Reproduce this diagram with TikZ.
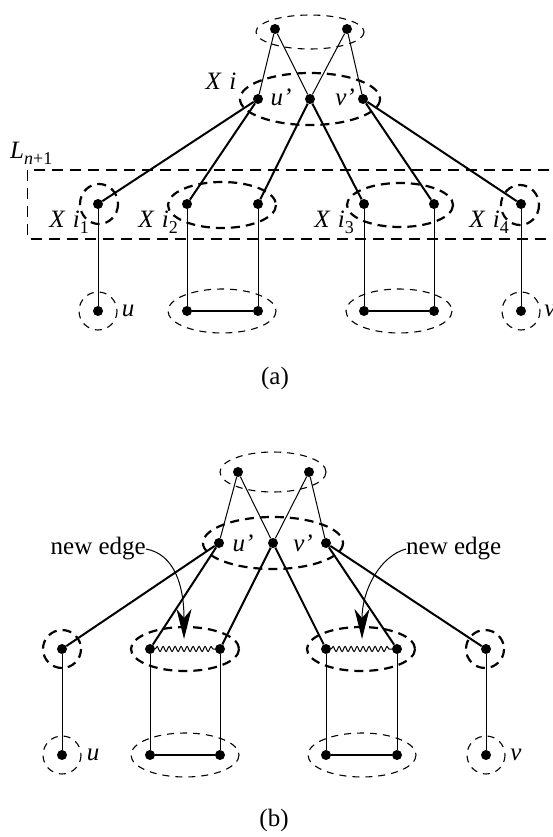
\documentclass[tikz,border=0pt]{standalone}
\usepackage{fontspec}
\setmainfont{Liberation Serif}
\usetikzlibrary{arrows.meta,decorations.pathmorphing}
\newcommand{\lowsub}[1]{\raisebox{-6pt}{\fontsize{18}{20}\selectfont\upshape #1}}
\begin{document}
\begin{tikzpicture}[x=1pt,y=-1pt,
 dot/.style={circle,fill=black,inner sep=0pt,minimum size=10pt},
 thinedge/.style={line width=1pt},
 midedge/.style={line width=1.4pt},
 thickedge/.style={line width=2pt},
 groupthick/.style={line width=2.2pt,dash pattern=on 9pt off 6pt},
 groupthin/.style={line width=1.1pt,dash pattern=on 7pt off 6pt},
 layerbox/.style={line width=1.5pt,dash pattern=on 11pt off 7pt},
 lbl/.style={font=\fontsize{25}{30}\selectfont\itshape, inner sep=0pt},
 txt/.style={font=\fontsize{25}{30}\selectfont, inner sep=0pt},
 wavy/.style={line width=1pt, decorate, decoration={snake,segment length=6pt,amplitude=2.5pt}},
 newarrow/.style={line width=1pt,-{Stealth[length=30pt,width=15pt,inset=9pt]}}
 ]
\useasboundingbox (0,0) rectangle (553,837);

% ================= (a) =================
\draw[groupthin] (310,32) ellipse [x radius=54, y radius=17];
\draw[groupthick] (310,99) ellipse [x radius=70, y radius=26];
\draw[groupthick] (99,204) ellipse [x radius=19, y radius=20];
\draw[groupthick] (222,205) ellipse [x radius=54, y radius=23];
\draw[groupthick] (400,205) ellipse [x radius=53, y radius=22];
\draw[groupthick] (520,205) ellipse [x radius=19, y radius=20];
\draw[groupthin] (98,311) ellipse [x radius=19, y radius=19];
\draw[groupthin] (222,311) ellipse [x radius=54, y radius=22];
\draw[groupthin] (399,311) ellipse [x radius=53, y radius=22];
\draw[groupthin] (521,311) ellipse [x radius=19, y radius=19];
\draw[layerbox] (27.5,170) rectangle (570,239);

\node[dot] (at1) at (275,29) {};
\node[dot] (at2) at (347,29) {};
\node[dot] (au) at (258,99) {};
\node[dot] (am) at (310,99) {};
\node[dot] (av) at (363,99) {};
\node[dot] (ar1) at (98,204) {};
\node[dot] (ar2) at (187,204) {};
\node[dot] (ar3) at (258,204) {};
\node[dot] (ar4) at (364,204) {};
\node[dot] (ar5) at (434,204) {};
\node[dot] (ar6) at (521,204) {};
\node[dot] (ab1) at (98,311) {};
\node[dot] (ab2) at (187,311) {};
\node[dot] (ab3) at (258,311) {};
\node[dot] (ab4) at (364,311) {};
\node[dot] (ab5) at (434,311) {};
\node[dot] (ab6) at (521,311) {};

\draw[thinedge] (at1) -- (au);
\draw[thinedge] (at1) -- (am);
\draw[thinedge] (at2) -- (am);
\draw[thinedge] (at2) -- (av);
\draw[thickedge] (au) -- (ar1);
\draw[thickedge] (au) -- (ar2);
\draw[thickedge] (am) -- (ar3);
\draw[thickedge] (am) -- (ar4);
\draw[thickedge] (av) -- (ar5);
\draw[thickedge] (av) -- (ar6);
\foreach \i in {1,...,6} {\draw[thinedge] (ar\i) -- (ab\i);}
\draw[midedge] (ab2) -- (ab3);
\draw[midedge] (ab4) -- (ab5);

\node[lbl] (aXi) at (221,81) {X\,\,i};
\node[lbl] (aul) at (281,97) {u'};
\node[lbl] (avl) at (345,97) {v'};
\node[lbl,anchor=west] (aL) at (10,153) {L\lowsub{\itshape n\upshape +1}};
\node[lbl,anchor=east] (aX1) at (89,222) {X\,\,i\lowsub{1}};
\node[lbl,anchor=east] (aX2) at (178,222) {X\,\,i\lowsub{2}};
\node[lbl,anchor=east] (aX3) at (354,222) {X\,\,i\lowsub{3}};
\node[lbl,anchor=east] (aX4) at (509,222) {X\,\,i\lowsub{4}};
\node[lbl] (aulab) at (128,311) {u};
\node[lbl] (avlab) at (550,311) {v};
\node[txt] (capa) at (275,378) {(a)};

% ================= (b) =================
\draw[groupthin] (273,472) ellipse [x radius=53, y radius=20];
\draw[groupthick] (273,543) ellipse [x radius=70, y radius=26];
\draw[groupthick] (62,649) ellipse [x radius=19, y radius=19];
\draw[groupthick] (185,649) ellipse [x radius=54, y radius=22];
\draw[groupthick] (361,649) ellipse [x radius=54, y radius=22];
\draw[groupthick] (485,649) ellipse [x radius=19, y radius=19];
\draw[groupthin] (62,755) ellipse [x radius=19, y radius=19];
\draw[groupthin] (185,755) ellipse [x radius=54, y radius=22];
\draw[groupthin] (362,755) ellipse [x radius=54, y radius=22];
\draw[groupthin] (486,755) ellipse [x radius=19, y radius=19];

\node[dot] (bt1) at (238,472) {};
\node[dot] (bt2) at (309,472) {};
\node[dot] (bu) at (219,543) {};
\node[dot] (bm) at (273,543) {};
\node[dot] (bv) at (326,543) {};
\node[dot] (br1) at (62,649) {};
\node[dot] (br2) at (150,649) {};
\node[dot] (br3) at (220,649) {};
\node[dot] (br4) at (326,649) {};
\node[dot] (br5) at (397,649) {};
\node[dot] (br6) at (486,649) {};
\node[dot] (bb1) at (62,755) {};
\node[dot] (bb2) at (150,755) {};
\node[dot] (bb3) at (220,755) {};
\node[dot] (bb4) at (326,755) {};
\node[dot] (bb5) at (397,755) {};
\node[dot] (bb6) at (486,755) {};

\draw[thinedge] (bt1) -- (bu);
\draw[thinedge] (bt1) -- (bm);
\draw[thinedge] (bt2) -- (bm);
\draw[thinedge] (bt2) -- (bv);
\draw[thickedge] (bu) -- (br1);
\draw[thickedge] (bu) -- (br2);
\draw[thickedge] (bm) -- (br3);
\draw[thickedge] (bm) -- (br4);
\draw[thickedge] (bv) -- (br5);
\draw[thickedge] (bv) -- (br6);
\foreach \i in {1,...,6} {\draw[thinedge] (br\i) -- (bb\i);}
\draw[midedge] (bb2) -- (bb3);
\draw[midedge] (bb4) -- (bb5);
\draw[wavy] (br2) -- (br3);
\draw[wavy] (br4) -- (br5);

\node[lbl] (bul) at (243,543) {u'};
\node[lbl] (bvl) at (303,543) {v'};
\node[txt,anchor=east] (ne1) at (146,549) {new edge};
\node[txt,anchor=west] (ne2) at (406,549) {new edge};
\coordinate (tip1) at (184,639);
\coordinate (tip2) at (362,639);
\draw[newarrow] (ne1.east) .. controls (174,554) and (184,585) .. (tip1);
\draw[newarrow] (ne2.west) .. controls (380,556) and (362,590) .. (tip2);
\node[lbl] (bulab) at (93,755) {u};
\node[lbl] (bvlab) at (516,755) {v};
\node[txt] (capb) at (274,820) {(b)};
\end{tikzpicture}
\end{document}
